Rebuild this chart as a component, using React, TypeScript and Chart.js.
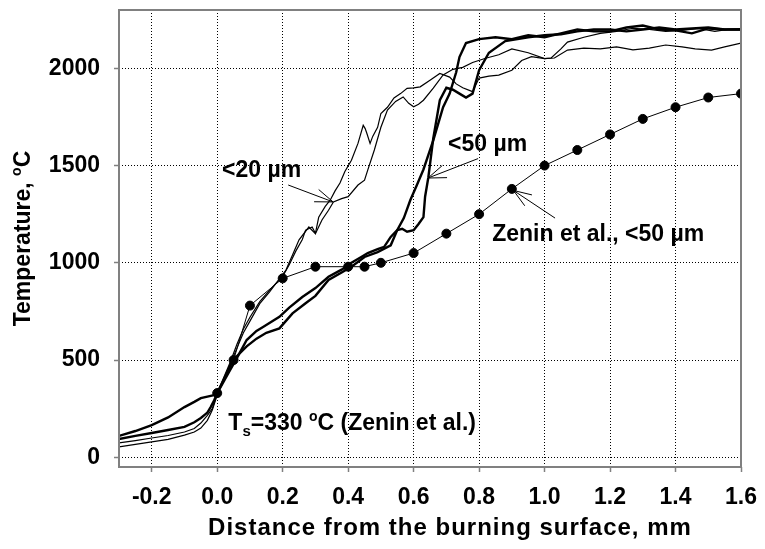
import React, { useEffect, useRef } from "react";
import { Chart, registerables } from "chart.js";

Chart.register(...registerables);

// ---------- axis ticks ----------
const xTickValues = [-0.2, 0, 0.2, 0.4, 0.6, 0.8, 1.0, 1.2, 1.4, 1.6];
const yTickValues = [0, 500, 1000, 1500, 2000];

// ---------- <20 µm, thin curve A ----------
const thinAX = [-0.3, -0.25, -0.2, -0.15, -0.1, -0.07, -0.05, -0.03, -0.015, 0, 0.02, 0.04, 0.06, 0.08, 0.1, 0.13, 0.16, 0.2, 0.22, 0.24, 0.26, 0.27, 0.29, 0.3, 0.31, 0.33, 0.345, 0.36, 0.375, 0.39, 0.41, 0.43, 0.446, 0.452, 0.457, 0.467, 0.475, 0.49, 0.5, 0.52, 0.54, 0.56, 0.58, 0.6, 0.62, 0.65, 0.68, 0.71, 0.73, 0.75, 0.78, 0.8, 0.83, 0.86, 0.9, 0.93, 0.96, 1.0, 1.03, 1.07, 1.12, 1.17, 1.22, 1.27, 1.32, 1.37, 1.42, 1.46, 1.51, 1.55, 1.6];
const thinAY = [74, 86, 99, 112, 130, 148, 176, 215, 250, 330, 410, 490, 580, 660, 720, 800, 860, 930, 990, 1060, 1120, 1168, 1184, 1152, 1234, 1290, 1322, 1370, 1410, 1470, 1527, 1614, 1707, 1690, 1666, 1614, 1650, 1697, 1768, 1800, 1848, 1870, 1897, 1900, 1905, 1939, 1974, 1955, 1920, 1900, 1880, 1950, 1960, 1965, 1990, 2040, 2060, 2050, 2053, 2094, 2104, 2100, 2110, 2095, 2104, 2120, 2110, 2100, 2094, 2110, 2130];

// ---------- <20 µm, thin curve B ----------
const thinBX = [-0.3, -0.25, -0.2, -0.15, -0.1, -0.07, -0.05, -0.03, -0.015, 0, 0.02, 0.04, 0.06, 0.08, 0.1, 0.13, 0.16, 0.21, 0.23, 0.25, 0.28, 0.3, 0.32, 0.34, 0.355, 0.38, 0.4, 0.43, 0.45, 0.46, 0.48, 0.5, 0.52, 0.545, 0.568, 0.585, 0.6, 0.615, 0.63, 0.66, 0.69, 0.72, 0.75, 0.78, 0.82, 0.86, 0.9, 0.95, 1.0, 1.02, 1.05, 1.07, 1.12, 1.17, 1.22, 1.27, 1.32, 1.37, 1.42, 1.47, 1.52, 1.56, 1.6];
const thinBY = [53, 66, 79, 92, 114, 130, 150, 190, 243, 320, 400, 480, 560, 640, 700, 790, 850, 963, 1040, 1118, 1184, 1150, 1220, 1270, 1313, 1330, 1340, 1400, 1425, 1478, 1580, 1697, 1785, 1830, 1853, 1820, 1802, 1815, 1836, 1898, 1966, 1995, 2005, 2030, 2052, 2070, 2100, 2080, 2050, 2053, 2100, 2135, 2160, 2180, 2190, 2206, 2200, 2190, 2195, 2205, 2190, 2200, 2205];

// ---------- <50 µm, thick curve 1 ----------
const thick1X = [-0.3, -0.25, -0.2, -0.15, -0.1, -0.07, -0.05, -0.03, -0.01, 0, 0.02, 0.04, 0.06, 0.09, 0.12, 0.14, 0.19, 0.22, 0.26, 0.3, 0.34, 0.38, 0.41, 0.44, 0.46, 0.49, 0.51, 0.53, 0.55, 0.57, 0.59, 0.61, 0.63, 0.66, 0.69, 0.71, 0.73, 0.74, 0.76, 0.8, 0.85, 0.9, 0.95, 1.0, 1.05, 1.1, 1.15, 1.2, 1.25, 1.3, 1.35, 1.4, 1.45, 1.5, 1.55, 1.6];
const thick1Y = [110, 135, 165, 205, 258, 285, 304, 312, 320, 330, 390, 450, 510, 603, 650, 670, 722, 770, 824, 870, 928, 965, 1000, 1030, 1050, 1070, 1082, 1133, 1168, 1230, 1323, 1400, 1480, 1630, 1800, 1870, 1980, 2058, 2130, 2150, 2160, 2150, 2170, 2160, 2180, 2200, 2190, 2190, 2210, 2220, 2200, 2195, 2180, 2205, 2200, 2200];

// ---------- <50 µm, thick curve 2 ----------
const thick2X = [-0.3, -0.25, -0.2, -0.15, -0.1, -0.07, -0.05, -0.03, -0.02, -0.01, 0, 0.02, 0.04, 0.06, 0.09, 0.12, 0.15, 0.19, 0.23, 0.27, 0.3, 0.34, 0.38, 0.41, 0.45, 0.49, 0.53, 0.55, 0.565, 0.58, 0.6, 0.615, 0.63, 0.635, 0.645, 0.66, 0.68, 0.7, 0.72, 0.74, 0.76, 0.78, 0.8, 0.83, 0.88, 0.95, 1.0, 1.05, 1.1, 1.15, 1.2, 1.25, 1.3, 1.35, 1.4, 1.45, 1.5, 1.55, 1.6];
const thick2Y = [94, 110, 125, 140, 156, 180, 202, 230, 258, 290, 330, 400, 470, 520, 570, 610, 640, 663, 740, 792, 830, 912, 950, 980, 1030, 1055, 1090, 1168, 1175, 1160, 1168, 1200, 1235, 1340, 1440, 1640, 1836, 1900, 1890, 1870, 1850, 1870, 1990, 2080, 2140, 2160, 2170, 2175, 2190, 2200, 2200, 2190, 2200, 2210, 2200, 2205, 2210, 2200, 2200];

// ---------- Zenin et al., <50 µm ----------
const zeninX = [0, 0.05, 0.1, 0.2, 0.3, 0.4, 0.45, 0.5, 0.6, 0.7, 0.8, 0.9, 1.0, 1.1, 1.2, 1.3, 1.4, 1.5, 1.6];
const zeninY = [330, 500, 780, 920, 980, 980, 980, 1000, 1050, 1150, 1250, 1380, 1500, 1580, 1660, 1740, 1800, 1850, 1870];

// ---------- annotations (data coordinates) ----------
const labelTexts = ["<20 µm", "<50 µm", "Zenin et al., <50 µm"];
const labelX = [0.015, 0.705, 0.84];
const labelY = [1472, 1606, 1143];
const arrowTailX = [0.217, 0.797, 1.032];
const arrowTailY = [1400, 1536, 1230];
const arrowTipX = [0.354, 0.644, 0.905];
const arrowTipY = [1313, 1436, 1372];
const tsLabelX = 0.034;
const tsLabelY = 171;

const FONT = "'Liberation Sans', Arial, Helvetica, sans-serif";

const toPts = (xs: number[], ys: number[]) => xs.map((x, i) => ({ x, y: ys[i] }));

type Part = { t: string; s: number; dy: number };

function drawParts(ctx: CanvasRenderingContext2D, parts: Part[], x: number, y: number) {
  let cx = x;
  for (const p of parts) {
    ctx.font = `bold ${p.s}px ${FONT}`;
    ctx.fillText(p.t, cx, y + p.dy);
    cx += ctx.measureText(p.t).width;
  }
  return cx - x;
}

function partsWidth(ctx: CanvasRenderingContext2D, parts: Part[]) {
  let w = 0;
  for (const p of parts) {
    ctx.font = `bold ${p.s}px ${FONT}`;
    w += ctx.measureText(p.t).width;
  }
  return w;
}

const decorPlugin = {
  id: "decor",
  afterDatasetsDraw(chart: any) {
    const ctx: CanvasRenderingContext2D = chart.ctx;
    const xs = chart.scales.x;
    const ys = chart.scales.y;
    const ca = chart.chartArea;
    ctx.save();
    // frame
    ctx.strokeStyle = "#808080";
    ctx.lineWidth = 2;
    ctx.strokeRect(ca.left, ca.top, ca.right - ca.left, ca.bottom - ca.top);

    ctx.fillStyle = "#000";
    ctx.strokeStyle = "#000";
    ctx.textBaseline = "middle";
    ctx.textAlign = "left";
    // labels
    for (let i = 0; i < labelTexts.length; i++) {
      ctx.font = `bold 23px ${FONT}`;
      ctx.fillText(labelTexts[i], xs.getPixelForValue(labelX[i]), ys.getPixelForValue(labelY[i]));
      // arrows
      const tx = xs.getPixelForValue(arrowTipX[i]);
      const ty = ys.getPixelForValue(arrowTipY[i]);
      const sx = xs.getPixelForValue(arrowTailX[i]);
      const sy = ys.getPixelForValue(arrowTailY[i]);
      const ang = Math.atan2(sy - ty, sx - tx);
      ctx.lineWidth = 1;
      ctx.beginPath();
      ctx.moveTo(sx, sy);
      ctx.lineTo(tx, ty);
      for (const d of [-0.35, 0.35]) {
        ctx.moveTo(tx, ty);
        ctx.lineTo(tx + 19 * Math.cos(ang + d), ty + 19 * Math.sin(ang + d));
      }
      ctx.stroke();
    }
    // Ts label
    drawParts(
      ctx,
      [
        { t: "T", s: 23, dy: 0 },
        { t: "s", s: 15, dy: 8 },
        { t: "=330 ", s: 23, dy: 0 },
        { t: "o", s: 14, dy: -7 },
        { t: "C (Zenin et al.)", s: 23, dy: 0 },
      ],
      xs.getPixelForValue(tsLabelX),
      ys.getPixelForValue(tsLabelY)
    );

    // x title
    ctx.font = `bold 24px ${FONT}`;
    ctx.textAlign = "center";
    (ctx as any).letterSpacing = "1px";
    ctx.fillText("Distance from the burning surface, mm", 450, 528);
    (ctx as any).letterSpacing = "0px";

    // y title
    const yParts: Part[] = [
      { t: "Temperature, ", s: 23, dy: 0 },
      { t: "o", s: 14, dy: -7 },
      { t: "C", s: 23, dy: 0 },
    ];
    ctx.textAlign = "left";
    ctx.translate(24, (ca.top + ca.bottom) / 2);
    ctx.rotate(-Math.PI / 2);
    const w = partsWidth(ctx, yParts);
    drawParts(ctx, yParts, -w / 2, 0);
    ctx.restore();
  },
};

export default function App() {
  const ref = useRef<HTMLCanvasElement | null>(null);
  useEffect(() => {
    document.body.style.margin = "0";
    const canvas = ref.current!;
    const tickFont = { family: FONT, size: 23, weight: "bold" as const };
    const chart = new Chart(canvas, {
      type: "scatter",
      data: {
        datasets: [
          { data: toPts(thinAX, thinAY), showLine: true, borderColor: "#000", borderWidth: 1.2, pointRadius: 0, tension: 0 },
          { data: toPts(thinBX, thinBY), showLine: true, borderColor: "#000", borderWidth: 1.2, pointRadius: 0, tension: 0 },
          { data: toPts(thick1X, thick1Y), showLine: true, borderColor: "#000", borderWidth: 2.4, pointRadius: 0, tension: 0 },
          { data: toPts(thick2X, thick2Y), showLine: true, borderColor: "#000", borderWidth: 2.4, pointRadius: 0, tension: 0 },
          { data: toPts(zeninX, zeninY), showLine: true, borderColor: "#000", borderWidth: 1, pointRadius: 4.5, pointBackgroundColor: "#000", pointBorderColor: "#000", tension: 0 },
        ],
      },
      options: {
        responsive: false,
        animation: false,
        devicePixelRatio: 1,
        layout: { padding: { top: 10, right: 24, left: 0, bottom: 0 } },
        plugins: { legend: { display: false }, tooltip: { enabled: false } },
        scales: {
          x: {
            type: "linear",
            min: -0.3,
            max: 1.6,
            afterBuildTicks: (s: any) => {
              s.ticks = xTickValues.map((v) => ({ value: v }));
            },
            afterFit: (s: any) => {
              s.height = 82;
              s.paddingLeft = 0;
              s.paddingRight = 0;
              s.paddingTop = 0;
              s.paddingBottom = 0;
            },
            ticks: {
              font: tickFont,
              color: "#000",
              padding: 12,
              maxRotation: 0,
              autoSkip: false,
              callback: (v: any) => Number(v).toFixed(1),
            },
            grid: { color: "#000", lineWidth: 1, tickLength: 5, tickColor: "#808080", tickWidth: 1.5, tickBorderDash: [] },
            border: { display: false, dash: [1, 2] },
          },
          y: {
            type: "linear",
            min: -50,
            max: 2300,
            afterBuildTicks: (s: any) => {
              s.ticks = yTickValues.map((v) => ({ value: v }));
            },
            afterFit: (s: any) => {
              s.width = 119;
              s.paddingLeft = 0;
              s.paddingRight = 0;
              s.paddingTop = 0;
              s.paddingBottom = 0;
            },
            ticks: {
              font: tickFont,
              color: "#000",
              padding: 14,
              autoSkip: false,
              callback: (v: any) => String(v),
            },
            grid: { color: "#000", lineWidth: 1, tickLength: 5, tickColor: "#808080", tickWidth: 1.5, tickBorderDash: [] },
            border: { display: false, dash: [1, 2] },
          },
        },
      },
      plugins: [decorPlugin],
    });
    return () => chart.destroy();
  }, []);
  return <canvas ref={ref} width={765} height={549} style={{ display: "block" }} />;
}
